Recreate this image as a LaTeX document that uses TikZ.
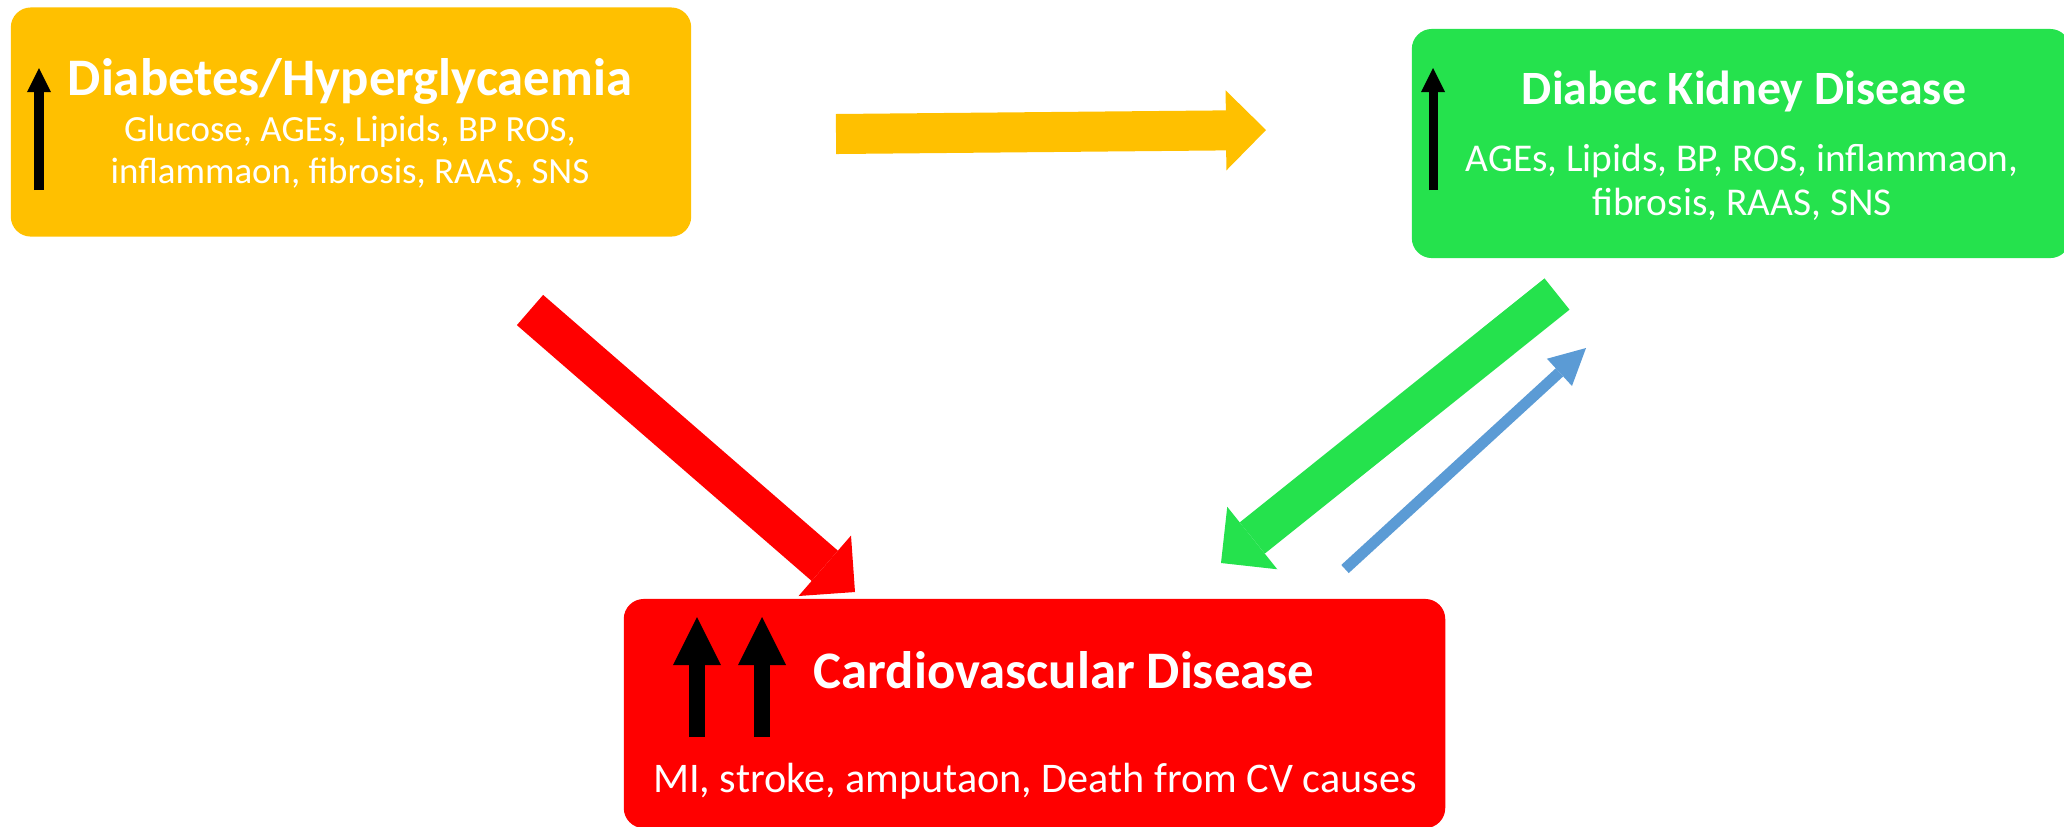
\documentclass[tikz,border=0pt]{standalone}
\usepackage{fontspec}
\setmainfont{Carlito}
\usetikzlibrary{arrows.meta}
\definecolor{dmyellow}{HTML}{FFC000}
\definecolor{dkgreen}{HTML}{25E24D}
\definecolor{cvred}{HTML}{FF0000}
\definecolor{linkblue}{HTML}{5B9BD5}
\tikzset{
    box/.style={rounded corners=0.2cm, inner sep=0pt, minimum height=2.29cm},
    head/.style={text=white, anchor=base, inner sep=0pt},
    body/.style={text=white, align=center, inner sep=0pt},
    fat/.style={line width=0.4cm, -{Triangle[length=0.4cm, width=0.8cm, line width=0pt]}},
    thin/.style={line width=0.11cm, -{Triangle[length=0.36cm, width=0.37cm, line width=0pt]}},
    small up/.style={line width=0.09cm, -{Triangle[length=0.24cm, width=0.24cm, line width=0pt]}},
    big up/.style={line width=0.16cm, -{Triangle[length=0.48cm, width=0.48cm, line width=0pt]}}
}
\begin{document}
\begin{tikzpicture}[x=0.01cm, y=-0.01cm]
    \useasboundingbox (0,0) rectangle (2064,826);
    \coordinate (ya) at (836,134);
    \coordinate (yb) at (1266,130);
    \coordinate (ra) at (530,310);
    \coordinate (rb) at (855,592);
    \coordinate (ga) at (1557,294);
    \coordinate (gb) at (1221,563);
    \coordinate (ba) at (1345,569);
    \coordinate (bb) at (1586,348);
    \node[box, fill=dmyellow, minimum width=6.8cm] (diab) at (351,122) {};
    \node[box, fill=dkgreen, minimum width=6.58cm] (dkd) at (1741,143.5) {};
    \node[box, fill=cvred, minimum width=8.21cm] (cvd) at (1034.5,713.5) {};
    \draw[small up] (39,190) -- (39,68);
    \draw[small up] (1433,190) -- (1433,68);
    \draw[big up] (697,737) -- (697,617);
    \draw[big up] (762,737) -- (762,617);
    \node[head, font=\bfseries\fontsize{15}{18}\selectfont] (diabtitle) at (350,95) {Diabetes/Hyperglycaemia};
    \node[body, font=\fontsize{10.5}{11.95}\selectfont] (diabtext) at (350,152)
        {Glucose, AGEs, Lipids, BP ROS,\\inflammaon, fibrosis, RAAS, SNS};
    \node[head, font=\bfseries\fontsize{13.6}{16}\selectfont] (dkdtitle) at (1744,104) {Diabec Kidney Disease};
    \node[body, font=\fontsize{11.2}{12.5}\selectfont] (dkdtext) at (1742,182)
        {AGEs, Lipids, BP, ROS, inflammaon,\\fibrosis, RAAS, SNS};
    \node[head, font=\bfseries\fontsize{15}{18}\selectfont] (cvdtitle) at (1064,688) {Cardiovascular Disease};
    \node[head, font=\fontsize{12}{14}\selectfont] (cvdtext) at (1035,792) {MI, stroke, amputaon, Death from CV causes};
    \draw[fat, dmyellow] (ya) -- (yb);
    \draw[fat, cvred] (ra) -- (rb);
    \draw[fat, dkgreen] (ga) -- (gb);
    \draw[thin, linkblue] (ba) -- (bb);
\end{tikzpicture}
\end{document}
